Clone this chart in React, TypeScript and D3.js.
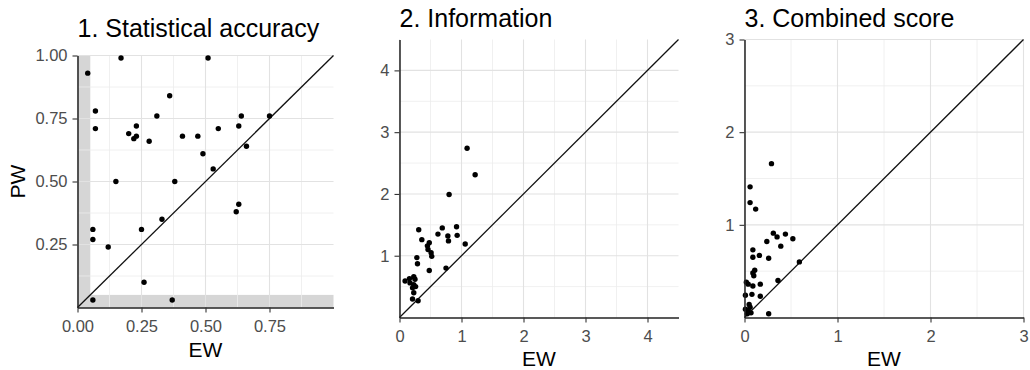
import { useEffect, useRef } from "react";
import * as d3 from "d3";

// 1. Statistical accuracy
const accEW = [0.04, 0.17, 0.51, 0.07, 0.07, 0.36, 0.31, 0.2, 0.23, 0.23, 0.22, 0.28, 0.41, 0.47, 0.55, 0.63, 0.64, 0.75, 0.66, 0.49, 0.53, 0.15, 0.38, 0.63, 0.62, 0.33, 0.06, 0.06, 0.12, 0.25, 0.26, 0.06, 0.37];
const accPW = [0.93, 0.99, 0.99, 0.78, 0.71, 0.84, 0.76, 0.69, 0.72, 0.68, 0.67, 0.66, 0.68, 0.68, 0.71, 0.72, 0.76, 0.76, 0.64, 0.61, 0.55, 0.5, 0.5, 0.41, 0.38, 0.35, 0.31, 0.27, 0.24, 0.31, 0.1, 0.03, 0.03];

// 2. Information
const infEW = [0.31, 0.36, 0.69, 0.62, 0.92, 0.78, 0.79, 0.93, 1.06, 0.48, 0.45, 0.46, 0.51, 0.52, 0.28, 0.29, 0.48, 0.75, 0.09, 0.16, 0.23, 0.25, 0.17, 0.23, 0.26, 0.21, 0.23, 0.21, 0.3, 1.09, 1.22, 0.8];
const infPW = [1.42, 1.26, 1.45, 1.35, 1.47, 1.32, 1.24, 1.33, 1.19, 1.21, 1.16, 1.1, 1.05, 0.99, 0.97, 0.87, 0.76, 0.8, 0.59, 0.63, 0.66, 0.62, 0.56, 0.53, 0.5, 0.48, 0.4, 0.3, 0.27, 2.74, 2.31, 1.99];

// 3. Combined score
const combEW = [0.29, 0.06, 0.06, 0.12, 0.31, 0.35, 0.44, 0.52, 0.24, 0.39, 0.09, 0.09, 0.16, 0.26, 0.59, 0.11, 0.09, 0.1, 0.36, 0.02, 0.04, 0.09, 0.17, 0.01, 0.08, 0.17, 0.05, 0.06, 0.01, 0.04, 0.07, 0.26, 0.03];
const combPW = [1.66, 1.41, 1.24, 1.17, 0.91, 0.87, 0.9, 0.85, 0.82, 0.77, 0.73, 0.65, 0.67, 0.64, 0.6, 0.51, 0.48, 0.45, 0.4, 0.38, 0.36, 0.34, 0.36, 0.24, 0.25, 0.23, 0.14, 0.11, 0.09, 0.07, 0.05, 0.04, 0.04];

const accXTicks = [0, 0.25, 0.5, 0.75];
const accYTicks = [0.25, 0.5, 0.75, 1];
const accMinor = [0.125, 0.375, 0.625, 0.875];
const infXTicks = [0, 1, 2, 3, 4];
const infYTicks = [1, 2, 3, 4];
const infMinor = [0.5, 1.5, 2.5, 3.5];
const combXTicks = [0, 1, 2, 3];
const combYTicks = [1, 2, 3];
const combMinor = [0.5, 1.5, 2.5];

const FONT = "'Liberation Sans', Arial, sans-serif";

interface PanelSpec {
  title: string;
  ew: number[];
  pw: number[];
  max: number;
  xTicks: number[];
  yTicks: number[];
  minor: number[];
  fmt: (v: number) => string;
  left: number;
  top: number;
  width: number;
  height: number;
  titleY: number;
  xTitleY: number;
  yTitle?: string;
  band?: number;
}

const panels: PanelSpec[] = [
  {
    title: "1. Statistical accuracy",
    ew: accEW,
    pw: accPW,
    max: 1,
    xTicks: accXTicks,
    yTicks: accYTicks,
    minor: accMinor,
    fmt: d3.format(".2f"),
    left: 77.5,
    top: 55.5,
    width: 256,
    height: 252,
    titleY: 36.5,
    xTitleY: 357,
    yTitle: "PW",
    band: 0.05,
  },
  {
    title: "2. Information",
    ew: infEW,
    pw: infPW,
    max: 4.5,
    xTicks: infXTicks,
    yTicks: infYTicks,
    minor: infMinor,
    fmt: d3.format("d"),
    left: 399.5,
    top: 39.5,
    width: 279,
    height: 278,
    titleY: 26.5,
    xTitleY: 366,
  },
  {
    title: "3. Combined score",
    ew: combEW,
    pw: combPW,
    max: 3,
    xTicks: combXTicks,
    yTicks: combYTicks,
    minor: combMinor,
    fmt: d3.format("d"),
    left: 744.5,
    top: 39.5,
    width: 279,
    height: 278,
    titleY: 26.5,
    xTitleY: 366,
  },
];

const drawPanel = (
  svg: d3.Selection<SVGSVGElement, unknown, null, undefined>,
  p: PanelSpec
) => {
  const x = d3.scaleLinear().domain([0, p.max]).range([0, p.width]);
  const y = d3.scaleLinear().domain([0, p.max]).range([p.height, 0]);

  const g = svg
    .append("g")
    .attr("transform", `translate(${p.left},${p.top})`);

  // shaded bands near zero
  if (p.band) {
    g.append("rect")
      .attr("x", 0)
      .attr("y", 0)
      .attr("width", x(p.band))
      .attr("height", p.height)
      .attr("fill", "#d6d6d6");
    g.append("rect")
      .attr("x", 0)
      .attr("y", y(p.band))
      .attr("width", p.width)
      .attr("height", p.height - y(p.band))
      .attr("fill", "#d6d6d6");
  }

  // grid
  const grid = g.append("g").attr("fill", "none");
  grid
    .selectAll("line.vmin")
    .data(p.minor)
    .join("line")
    .attr("x1", (d) => x(d))
    .attr("x2", (d) => x(d))
    .attr("y1", 0)
    .attr("y2", p.height)
    .attr("stroke", "#ececec")
    .attr("stroke-width", 0.8);
  grid
    .selectAll("line.hmin")
    .data(p.minor)
    .join("line")
    .attr("x1", 0)
    .attr("x2", p.width)
    .attr("y1", (d) => y(d))
    .attr("y2", (d) => y(d))
    .attr("stroke", "#ececec")
    .attr("stroke-width", 0.8);
  grid
    .append("g")
    .selectAll("line")
    .data(p.xTicks)
    .join("line")
    .attr("x1", (d) => x(d))
    .attr("x2", (d) => x(d))
    .attr("y1", 0)
    .attr("y2", p.height)
    .attr("stroke", "#e2e2e2")
    .attr("stroke-width", 1.1);
  grid
    .append("g")
    .selectAll("line")
    .data(p.yTicks)
    .join("line")
    .attr("x1", 0)
    .attr("x2", p.width)
    .attr("y1", (d) => y(d))
    .attr("y2", (d) => y(d))
    .attr("stroke", "#e2e2e2")
    .attr("stroke-width", 1.1);

  // identity line
  g.append("line")
    .attr("x1", x(0))
    .attr("y1", y(0))
    .attr("x2", x(p.max))
    .attr("y2", y(p.max))
    .attr("stroke", "#111")
    .attr("stroke-width", 1.3);

  // points
  g.append("g")
    .selectAll("circle")
    .data(p.ew.map((e, i) => [e, p.pw[i]]))
    .join("circle")
    .attr("cx", (d) => x(d[0]))
    .attr("cy", (d) => y(d[1]))
    .attr("r", 2.7)
    .attr("fill", "#000");

  // axes
  const xAxis = g
    .append("g")
    .attr("transform", `translate(0,${p.height})`)
    .call(
      d3
        .axisBottom(x)
        .tickValues(p.xTicks)
        .tickFormat((d) => p.fmt(d as number))
        .tickSize(5)
        .tickPadding(4)
        .tickSizeOuter(0)
    );
  const yAxis = g.append("g").call(
    d3
      .axisLeft(y)
      .tickValues(p.yTicks)
      .tickFormat((d) => p.fmt(d as number))
      .tickSize(5)
      .tickPadding(5)
      .tickSizeOuter(0)
  );
  [xAxis, yAxis].forEach((a) => {
    a.select(".domain").attr("stroke", "#222").attr("stroke-width", 1.5);
    a.selectAll(".tick line").attr("stroke", "#333").attr("stroke-width", 1.1);
    a.selectAll(".tick text")
      .attr("fill", "#4d4d4d")
      .attr("font-size", 16.5)
      .attr("font-family", FONT);
  });
  xAxis.selectAll(".tick text").attr("dy", "0.95em");

  // titles
  svg
    .append("text")
    .attr("x", p.left)
    .attr("y", p.titleY)
    .attr("font-family", FONT)
    .attr("font-size", 25)
    .attr("fill", "#000")
    .text(p.title);

  svg
    .append("text")
    .attr("x", p.left + p.width / 2)
    .attr("y", p.xTitleY)
    .attr("text-anchor", "middle")
    .attr("font-family", FONT)
    .attr("font-size", 21)
    .attr("fill", "#000")
    .text("EW");

  if (p.yTitle) {
    svg
      .append("text")
      .attr(
        "transform",
        `translate(25,${p.top + p.height / 2}) rotate(-90)`
      )
      .attr("text-anchor", "middle")
      .attr("font-family", FONT)
      .attr("font-size", 21)
      .attr("fill", "#000")
      .text(p.yTitle);
  }
};

export default function App() {
  const svgRef = useRef<SVGSVGElement>(null);

  useEffect(() => {
    if (!svgRef.current) return;
    const svg = d3.select(svgRef.current);
    svg.selectAll("*").remove();
    svg
      .append("rect")
      .attr("width", 1030)
      .attr("height", 370)
      .attr("fill", "#fff");
    panels.forEach((p) => drawPanel(svg, p));
  }, []);

  return (
    <svg
      ref={svgRef}
      width={1030}
      height={370}
      style={{ position: "absolute", left: 0, top: 0 }}
    />
  );
}
